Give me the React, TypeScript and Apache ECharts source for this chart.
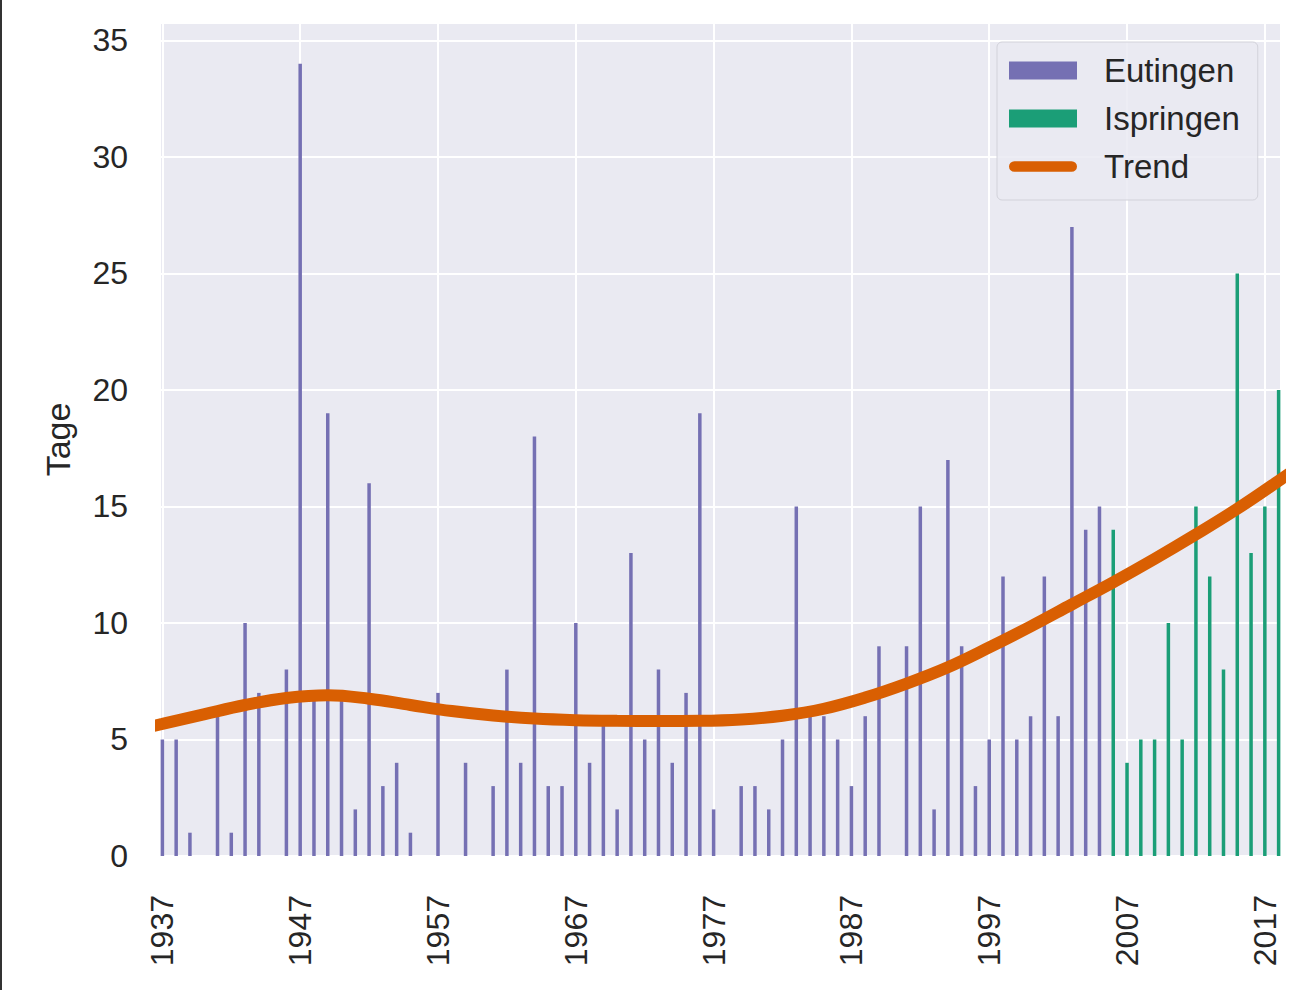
import React, { useEffect, useRef } from "react";
import * as echarts from "echarts";

// Years (categories) for each station
const eutingenYears: number[] = Array.from({ length: 69 }, (_, i) => 1937 + i); // 1937–2005
const ispringenYears: number[] = Array.from({ length: 13 }, (_, i) => 2006 + i); // 2006–2018

// Days per year
const eutingenValues: number[] = [
  5, 5, 1, 0, 6, 1, 10, 7, 0, 8, // 1937-1946
  34, 7, 19, 7, 2, 16, 3, 4, 1, 0, // 1947-1956
  7, 0, 4, 0, 3, 8, 4, 18, 3, 3, // 1957-1966
  10, 4, 6, 2, 13, 5, 8, 4, 7, 19, // 1967-1976
  2, 0, 3, 3, 2, 5, 15, 6, 6, 5, // 1977-1986
  3, 6, 9, 0, 9, 15, 2, 17, 9, 3, // 1987-1996
  5, 12, 5, 6, 12, 6, 27, 14, 15, // 1997-2005
];
const ispringenValues: number[] = [14, 4, 5, 5, 10, 5, 15, 12, 8, 25, 13, 15, 20];

// Smoothed trend curve (ends are clipped by the plot area)
const trendYears: number[] = [
  1934, 1937, 1940, 1943, 1946, 1949, 1952, 1955, 1958, 1961, 1964, 1967,
  1970, 1973, 1976, 1979, 1982, 1985, 1988, 1991, 1994, 1997, 2000, 2003,
  2006, 2009, 2012, 2015, 2018, 2021,
];
const trendValues: number[] = [
  5.28, 5.67, 6.08, 6.48, 6.78, 6.9, 6.75, 6.48, 6.22, 6.03, 5.9, 5.83,
  5.8, 5.79, 5.8, 5.86, 6.02, 6.32, 6.8, 7.4, 8.1, 8.95, 9.85, 10.8,
  11.75, 12.75, 13.8, 14.9, 16.1, 17.35,
];

// Tick labels
const xTickYears: number[] = [1937, 1947, 1957, 1967, 1977, 1987, 1997, 2007, 2017];

const FONT = "'Liberation Sans', Arial, Helvetica, sans-serif";
const TEXT = "#262626";
const TREND_ICON = "path://M6,0 L70,0 A6,6 0 0 1 70,12 L6,12 A6,6 0 0 1 6,0 Z";

export default function App() {
  const ref = useRef<HTMLDivElement>(null);

  useEffect(() => {
    if (!ref.current) return;
    const chart = echarts.init(ref.current, undefined, { renderer: "svg" });
    const option: any = {
      animation: false,
      backgroundColor: "#ffffff",
      textStyle: { fontFamily: FONT },
      grid: {
        left: 161,
        right: 18,
        top: 23,
        bottom: 134,
        show: true,
        backgroundColor: "#eaeaf2",
        borderWidth: 0,
      },
      xAxis: {
        type: "value",
        min: 1936.9,
        max: 2018.1,
        axisLine: { show: false },
        axisTick: { show: false, customValues: xTickYears },
        axisLabel: {
          customValues: xTickYears,
          rotate: 90,
          margin: 39,
          fontSize: 32,
          color: TEXT,
          fontFamily: FONT,
          formatter: (v: number) => String(v),
        },
        splitLine: { show: true, lineStyle: { color: "#ffffff", width: 2 } },
      },
      yAxis: {
        type: "value",
        min: 0,
        max: 35.75,
        interval: 5,
        name: "Tage",
        nameLocation: "middle",
        nameGap: 86,
        nameTextStyle: { fontSize: 34, color: TEXT, fontFamily: FONT },
        axisLine: { show: false },
        axisTick: { show: false },
        axisLabel: {
          fontSize: 32,
          margin: 33,
          color: TEXT,
          fontFamily: FONT,
          showMaxLabel: false,
        },
        splitLine: { show: true, lineStyle: { color: "#ffffff", width: 2 } },
      },
      legend: {
        orient: "vertical",
        left: 997,
        top: 42,
        padding: [12, 18, 17, 12],
        itemWidth: 68,
        itemHeight: 18,
        itemGap: 15,
        backgroundColor: "rgba(234,234,242,0.85)",
        borderColor: "#d2d2da",
        borderWidth: 1,
        borderRadius: 5,
        textStyle: { fontSize: 33, color: TEXT, fontFamily: FONT, padding: [0, 0, 0, 22] },
        data: [
          { name: "Eutingen", icon: "rect" },
          { name: "Ispringen", icon: "rect" },
          { name: "Trend", icon: TREND_ICON },
        ],
      },
      graphic: [
        {
          type: "rect",
          left: 0,
          top: 0,
          shape: { width: 2, height: 990 },
          style: { fill: "#333333" },
          silent: true,
        },
      ],
      series: [
        {
          name: "Eutingen",
          type: "bar",
          barWidth: 3.5,
          barGap: "-100%",
          itemStyle: { color: "#7570b3" },
          data: eutingenYears.map((y, i) => [y, eutingenValues[i]]),
          z: 2,
        },
        {
          name: "Ispringen",
          type: "bar",
          barWidth: 3.5,
          barGap: "-100%",
          itemStyle: { color: "#1b9e77" },
          data: ispringenYears.map((y, i) => [y, ispringenValues[i]]),
          z: 2,
        },
        {
          name: "Trend",
          type: "line",
          smooth: 0.4,
          symbol: "none",
          clip: true,
          lineStyle: { color: "#d95f02", width: 12, cap: "round" },
          itemStyle: { color: "#d95f02" },
          data: trendYears.map((y, i) => [y, trendValues[i]]),
          z: 5,
        },
      ],
    };
    chart.setOption(option);
    return () => chart.dispose();
  }, []);

  return (
    <div
      ref={ref}
      style={{ position: "absolute", left: 0, top: 0, width: 1298, height: 990 }}
    />
  );
}
